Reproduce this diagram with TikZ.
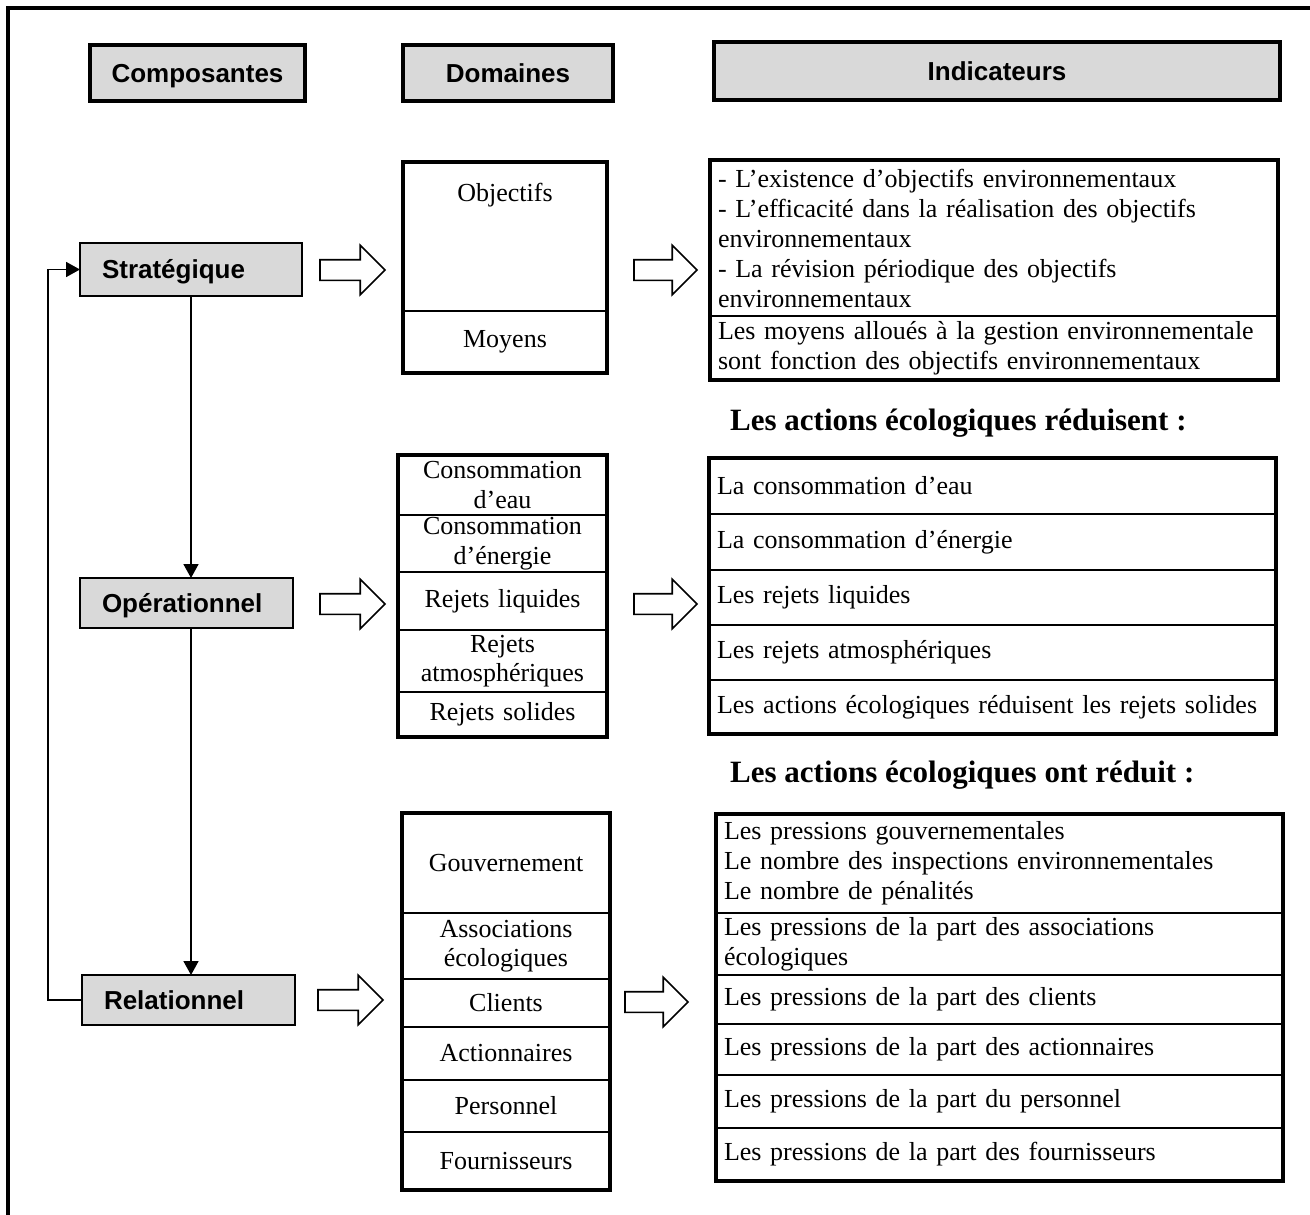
\documentclass[tikz,border=0pt]{standalone}
\usepackage{fontspec}
\setmainfont{Liberation Serif}
\newfontfamily\hsans{Liberation Sans}
\usetikzlibrary{shapes.arrows,arrows.meta,calc}
\definecolor{boxgray}{HTML}{D9D9D9}
\begin{document}
\begin{tikzpicture}[x=1pt,y=-1pt,
  hdr/.style={draw, line width=3.5pt, fill=boxgray, anchor=north west, inner sep=0pt, outer sep=0pt,
    text height=18.6pt, text depth=0pt, font=\hsans\bfseries\fontsize{26}{30}\selectfont},
  comp/.style={draw, line width=2.5pt, fill=boxgray, anchor=north west, inner xsep=22pt, inner ysep=0pt,
    outer sep=0pt, align=left, text height=18.6pt, text depth=0pt, font=\hsans\bfseries\fontsize{26}{30}\selectfont},
  dcell/.style={draw, line width=2pt, anchor=north west, inner xsep=6pt, inner ysep=0pt, outer sep=0pt,
    align=center, font=\fontsize{26}{29.5}\selectfont},
  icell/.style={draw, line width=2pt, anchor=north west, inner xsep=8pt, inner ysep=0pt, outer sep=0pt,
    align=left, font=\fontsize{26}{30}\selectfont},
  txt/.style={font=\fontsize{26}{30}\selectfont, inner sep=0pt},
  headline/.style={font=\bfseries\fontsize{31}{36}\selectfont, anchor=west, inner sep=0pt},
  outerbox/.style={line width=3.5pt},
  conn/.style={line width=1.8pt, -{Triangle[length=14pt,width=15pt]}},
  blk/.style={single arrow, draw, line width=1.6pt, fill=white, minimum height=65pt,
    single arrow head extend=14.5pt, inner xsep=0pt, inner ysep=9.5pt, outer sep=0pt, anchor=tail}
]
\useasboundingbox (0,0) rectangle (1310,1215);
\fill[white] (0,0) rectangle (1310,1215);
% frame
\draw[line width=3.5pt] (8,1215) -- (8,8) -- (1310,8);

% headers
\node[hdr, minimum width=215pt, minimum height=56pt] (hcomp) at (90,45) {Composantes};
\node[hdr, minimum width=210pt, minimum height=56pt] (hdom) at (403,45) {Domaines};
\node[hdr, minimum width=566pt, minimum height=58pt] (hind) at (714,42) {Indicateurs};

% components
\node[comp, minimum height=53pt, text width=178pt] (strat) at (80,243) {Stratégique};
\node[comp, minimum height=50pt, text width=169pt] (oper) at (80,578) {Opérationnel};
\node[comp, minimum height=50pt, text width=169pt] (rel) at (82,975) {Relationnel};

\draw[conn] (strat.south) -- (strat.south |- oper.north);
\draw[conn] (strat.south |- oper.south) -- (strat.south |- rel.north);
\draw[conn] (rel.west) -- ++(-34,0) |- (strat.west);

% block arrows
\node[blk] (a11) at (320,270) {};
\node[blk, minimum height=63pt] (a12) at (634,270) {};
\node[blk] (a21) at (320,604) {};
\node[blk, minimum height=63pt] (a22) at (634,604) {};
\node[blk] (a31) at (318,1000) {};
\node[blk, minimum height=63pt] (a32) at (625,1002) {};

% strategic domains
\node[dcell, minimum width=204pt, minimum height=149pt] (dobj) at (403,162) {};
\node[txt] (tobj) at ($(dobj.north)+(0,33)$) {Objectifs};
\node[dcell, minimum height=62pt, text width=192pt] (dmoy) at (403,311) {Moyens};
\draw[outerbox] (dobj.north west) rectangle (dmoy.south east);

% strategic indicators
\node[icell, minimum height=156pt, text width=552pt] (iobj) at (710,160)
  {- L’existence d’objectifs environnementaux\\- L’efficacité dans la réalisation des objectifs\\environnementaux\\- La révision périodique des objectifs\\environnementaux};
\node[icell, minimum height=64pt, text width=552pt] (imoy) at (710,316)
  {Les moyens alloués à la gestion environnementale\\sont fonction des objectifs environnementaux};
\draw[outerbox] (iobj.north west) rectangle (imoy.south east);

% headline 1
\node[headline] (hl1) at (730,423) {Les actions écologiques réduisent :};

% operational domains
\node[dcell, minimum height=60pt, text width=197pt] (d21) at (398,455) {Consommation\\d’eau};
\node[dcell, minimum height=57pt, text width=197pt] (d22) at (398,515) {Consommation\\d’énergie};
\node[dcell, minimum height=58pt, text width=197pt] (d23) at (398,572) {Rejets liquides};
\node[dcell, minimum height=62pt, text width=197pt] (d24) at (398,630) {Rejets\\atmosphériques};
\node[dcell, minimum height=45pt, text width=197pt] (d25) at (398,692) {Rejets solides};
\draw[outerbox] (d21.north west) rectangle (d25.south east);

% operational indicators
\node[icell, minimum height=56pt, text width=551pt] (i21) at (709,458) {La consommation d’eau};
\node[icell, minimum height=56pt, text width=551pt] (i22) at (709,514) {La consommation d’énergie};
\node[icell, minimum height=55pt, text width=551pt] (i23) at (709,570) {Les rejets liquides};
\node[icell, minimum height=55pt, text width=551pt] (i24) at (709,625) {Les rejets atmosphériques};
\node[icell, minimum height=54pt, text width=551pt] (i25) at (709,680) {Les actions écologiques réduisent les rejets solides};
\draw[outerbox] (i21.north west) rectangle (i25.south east);

% headline 2
\node[headline] (hl2) at (730,775) {Les actions écologiques ont réduit :};

% relational domains
\node[dcell, minimum height=100pt, text width=196pt] (d31) at (402,813) {Gouvernement};
\node[dcell, minimum height=66pt, text width=196pt] (d32) at (402,913) {Associations\\écologiques};
\node[dcell, minimum height=48pt, text width=196pt] (d33) at (402,979) {Clients};
\node[dcell, minimum height=53pt, text width=196pt] (d34) at (402,1027) {Actionnaires};
\node[dcell, minimum height=52pt, text width=196pt] (d35) at (402,1080) {Personnel};
\node[dcell, minimum height=58pt, text width=196pt] (d36) at (402,1132) {Fournisseurs};
\draw[outerbox] (d31.north west) rectangle (d36.south east);

% relational indicators
\node[icell, minimum height=99pt, text width=551pt] (i31) at (716,814)
  {Les pressions gouvernementales\\Le nombre des inspections environnementales\\Le nombre de pénalités};
\node[icell, minimum height=62pt, text width=551pt] (i32) at (716,913)
  {Les pressions de la part des associations\\écologiques};
\node[icell, minimum height=49pt, text width=551pt] (i33) at (716,975) {Les pressions de la part des clients};
\node[icell, minimum height=51pt, text width=551pt] (i34) at (716,1024) {Les pressions de la part des actionnaires};
\node[icell, minimum height=53pt, text width=551pt] (i35) at (716,1075) {Les pressions de la part du personnel};
\node[icell, minimum height=53pt, text width=551pt] (i36) at (716,1128) {Les pressions de la part des fournisseurs};
\draw[outerbox] (i31.north west) rectangle (i36.south east);
\end{tikzpicture}
\end{document}
